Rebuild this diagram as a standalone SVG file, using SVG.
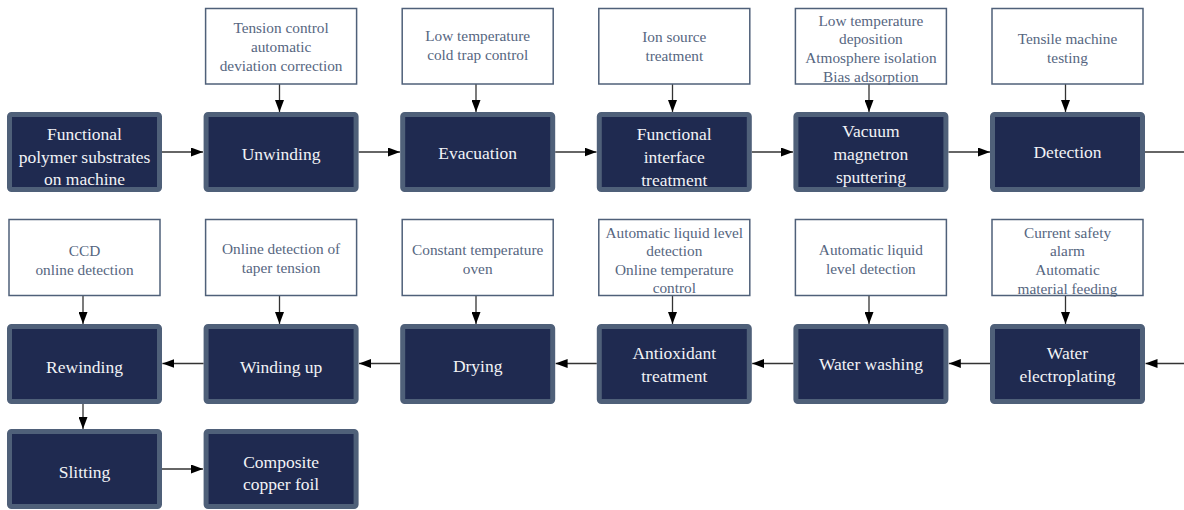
<svg xmlns="http://www.w3.org/2000/svg" width="1184" height="510" viewBox="0 0 1184 510" font-family="'Liberation Serif', 'Times New Roman', serif">
<style>
.n rect{fill:#1f2a50;stroke:#4f6079;stroke-width:5}
.n text{fill:#f2f3f6;font-family:'Liberation Serif','Times New Roman',serif;font-size:17.5px;text-anchor:middle}
.c rect{fill:#fff;stroke:#4f6079;stroke-width:1.5}
.c text{fill:#56667f;font-family:'Liberation Serif','Times New Roman',serif;font-size:15.3px;text-anchor:middle}
#edges path{fill:none;stroke:#333;stroke-width:1.3}
</style>
<defs>
<marker id="ah" markerUnits="userSpaceOnUse" markerWidth="12" markerHeight="9" refX="12" refY="4.5" orient="auto">
<path d="M0,0 L12,4.5 L0,9 Z" fill="#000"/>
</marker>
</defs>
<rect width="1184" height="510" fill="#fff"/>

<g id="edges">
<path d="M162,152 H203" marker-end="url(#ah)"/>
<path d="M358.6,152 H400" marker-end="url(#ah)"/>
<path d="M555.2,152 H596.5" marker-end="url(#ah)"/>
<path d="M751.8,152 H793" marker-end="url(#ah)"/>
<path d="M948.4,152 H990" marker-end="url(#ah)"/>
<path d="M1145,152 H1184"/>
<path d="M1184,363.5 H1145.5" marker-end="url(#ah)"/>
<path d="M990,363.5 H948.8" marker-end="url(#ah)"/>
<path d="M793.4,363.5 H752.2" marker-end="url(#ah)"/>
<path d="M596.8,363.5 H555.6" marker-end="url(#ah)"/>
<path d="M400.2,363.5 H359" marker-end="url(#ah)"/>
<path d="M203.6,363.5 H162.4" marker-end="url(#ah)"/>
<path d="M83,404 V429" marker-end="url(#ah)"/>
<path d="M162,469 H203" marker-end="url(#ah)"/>
<path d="M279.5,84 V112" marker-end="url(#ah)"/>
<path d="M476,84 V112" marker-end="url(#ah)"/>
<path d="M672.5,84 V112" marker-end="url(#ah)"/>
<path d="M869,84 V112" marker-end="url(#ah)"/>
<path d="M1065.5,84 V112" marker-end="url(#ah)"/>
<path d="M83,296 V324" marker-end="url(#ah)"/>
<path d="M279.5,296 V324" marker-end="url(#ah)"/>
<path d="M476,296 V324" marker-end="url(#ah)"/>
<path d="M672.5,296 V324" marker-end="url(#ah)"/>
<path d="M869,296 V324" marker-end="url(#ah)"/>
<path d="M1065.5,296 V324" marker-end="url(#ah)"/>
</g>

<!-- top row process nodes -->
<g id="n-substrates" class="n"><rect x="9.5" y="114.5" width="150" height="75" rx="2"/><text x="84.5" y="140">Functional</text><text x="84.5" y="162.5">polymer substrates</text><text x="84.5" y="185">on machine</text></g>
<g id="n-unwinding" class="n"><rect x="206.1" y="114.5" width="150" height="75" rx="2"/><text x="281.1" y="159.5">Unwinding</text></g>
<g id="n-evacuation" class="n"><rect x="402.7" y="114.5" width="150" height="75" rx="2"/><text x="477.7" y="158.5">Evacuation</text></g>
<g id="n-interface" class="n"><rect x="599.3" y="114.5" width="150" height="75" rx="2"/><text x="674.3" y="140">Functional</text><text x="674.3" y="163">interface</text><text x="674.3" y="186">treatment</text></g>
<g id="n-sputtering" class="n"><rect x="795.9" y="114.5" width="150" height="75" rx="2"/><text x="870.9" y="137">Vacuum</text><text x="870.9" y="160">magnetron</text><text x="870.9" y="183.3">sputtering</text></g>
<g id="n-detection" class="n"><rect x="992.5" y="114.5" width="150" height="75" rx="2"/><text x="1067.5" y="157.5">Detection</text></g>

<!-- top row control boxes -->
<g id="c-tension" class="c"><rect x="205.6" y="8.5" width="151" height="75.5"/><text x="281.1" y="33.3">Tension control</text><text x="281.1" y="52.3">automatic</text><text x="281.1" y="71">deviation correction</text></g>
<g id="c-coldtrap" class="c"><rect x="402.2" y="8.5" width="151" height="75.5"/><text x="477.7" y="41">Low temperature</text><text x="477.7" y="60">cold trap control</text></g>
<g id="c-ion" class="c"><rect x="598.8" y="8.5" width="151" height="75.5"/><text x="674.3" y="41.7">Ion source</text><text x="674.3" y="60.7">treatment</text></g>
<g id="c-deposition" class="c"><rect x="795.4" y="8.5" width="151" height="75.5"/><text x="870.9" y="25.7">Low temperature</text><text x="870.9" y="44.3">deposition</text><text x="870.9" y="63.3">Atmosphere isolation</text><text x="870.9" y="81.7">Bias adsorption</text></g>
<g id="c-tensile" class="c"><rect x="992" y="8.5" width="151" height="75.5"/><text x="1067.5" y="44.3">Tensile machine</text><text x="1067.5" y="63.3">testing</text></g>

<!-- bottom row process nodes -->
<g id="n-rewinding" class="n"><rect x="9.5" y="326.5" width="150" height="75" rx="2"/><text x="84.5" y="373">Rewinding</text></g>
<g id="n-windingup" class="n"><rect x="206.1" y="326.5" width="150" height="75" rx="2"/><text x="281.1" y="373">Winding up</text></g>
<g id="n-drying" class="n"><rect x="402.7" y="326.5" width="150" height="75" rx="2"/><text x="477.7" y="372.3">Drying</text></g>
<g id="n-antioxidant" class="n"><rect x="599.3" y="326.5" width="150" height="75" rx="2"/><text x="674.3" y="359.3">Antioxidant</text><text x="674.3" y="381.7">treatment</text></g>
<g id="n-washing" class="n"><rect x="795.9" y="326.5" width="150" height="75" rx="2"/><text x="870.9" y="370">Water washing</text></g>
<g id="n-electroplating" class="n"><rect x="992.5" y="326.5" width="150" height="75" rx="2"/><text x="1067.5" y="359.3">Water</text><text x="1067.5" y="381.7">electroplating</text></g>

<!-- bottom row control boxes -->
<g id="c-ccd" class="c"><rect x="9" y="219.5" width="151" height="76"/><text x="84.5" y="256">CCD</text><text x="84.5" y="275">online detection</text></g>
<g id="c-taper" class="c"><rect x="205.6" y="219.5" width="151" height="76"/><text x="281.1" y="254.3">Online detection of</text><text x="281.1" y="273.3">taper tension</text></g>
<g id="c-oven" class="c"><rect x="402.2" y="219.5" width="151" height="76"/><text x="477.7" y="255">Constant temperature</text><text x="477.7" y="274">oven</text></g>
<g id="c-liquidtemp" class="c"><rect x="598.8" y="219.5" width="151" height="76"/><text x="674.3" y="237.5">Automatic liquid level</text><text x="674.3" y="256">detection</text><text x="674.3" y="274.5">Online temperature</text><text x="674.3" y="293">control</text></g>
<g id="c-liquid" class="c"><rect x="795.4" y="219.5" width="151" height="76"/><text x="870.9" y="255">Automatic liquid</text><text x="870.9" y="274">level detection</text></g>
<g id="c-safety" class="c"><rect x="992" y="219.5" width="151" height="76"/><text x="1067.5" y="237.5">Current safety</text><text x="1067.5" y="256">alarm</text><text x="1067.5" y="275">Automatic</text><text x="1067.5" y="293.7">material feeding</text></g>

<!-- third row -->
<g id="n-slitting" class="n"><rect x="9.5" y="431.5" width="150" height="75" rx="2"/><text x="84.5" y="478.3">Slitting</text></g>
<g id="n-foil" class="n"><rect x="206.1" y="431.5" width="150" height="75" rx="2"/><text x="281.1" y="467.7">Composite</text><text x="281.1" y="490">copper foil</text></g>
</svg>
